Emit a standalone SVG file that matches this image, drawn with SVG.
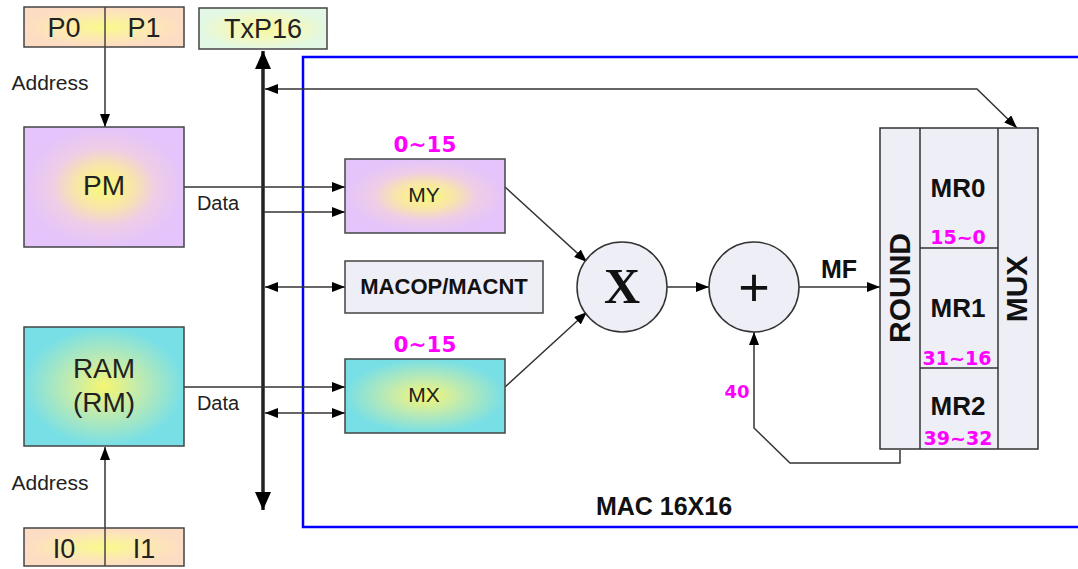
<svg xmlns="http://www.w3.org/2000/svg" width="1078" height="569" viewBox="0 0 1078 569">
<style>
.box{stroke:#444;stroke-width:1.5}
.ln{stroke:#333;stroke-width:1.5;fill:none}
.bus{stroke:#222;stroke-width:3.5;fill:none}
.t{font-family:"Liberation Sans",Arial,sans-serif;fill:#222;text-anchor:middle}
.b{font-family:"Liberation Sans",Arial,sans-serif;font-weight:bold;fill:#111;text-anchor:middle}
.m{font-family:"DejaVu Sans",Verdana,sans-serif;font-weight:bold;fill:#ff00ff;text-anchor:middle}
.reg{fill:#eeeef7;stroke:#333;stroke-width:1.5}
</style>
<defs>
<radialGradient id="gPurple"><stop offset="0" stop-color="#fafa78"/><stop offset="0.35" stop-color="#f8e6a8"/><stop offset="0.65" stop-color="#eecde6"/><stop offset="1" stop-color="#e4c4fb"/></radialGradient>
<radialGradient id="gCyan"><stop offset="0" stop-color="#f6f670"/><stop offset="0.4" stop-color="#c6ecaa"/><stop offset="1" stop-color="#78dfe6"/></radialGradient>
<radialGradient id="gPeach"><stop offset="0" stop-color="#fafa8a"/><stop offset="0.6" stop-color="#fce8b4"/><stop offset="1" stop-color="#fddcc4"/></radialGradient>
<radialGradient id="gGreen"><stop offset="0" stop-color="#f8f89c"/><stop offset="0.6" stop-color="#f0f8c6"/><stop offset="1" stop-color="#e2f8e4"/></radialGradient>
<marker id="ah" markerWidth="13" markerHeight="10" refX="13" refY="5" orient="auto-start-reverse" markerUnits="userSpaceOnUse"><path d="M0,0 L13,5 L0,10 z" fill="#000"/></marker>
<marker id="bh" markerWidth="18" markerHeight="16" refX="18" refY="8" orient="auto-start-reverse" markerUnits="userSpaceOnUse"><path d="M0,0 L18,8 L0,16 z" fill="#000"/></marker>
</defs>
<rect width="1078" height="569" fill="#fff"/>

<g id="mac-frame">
<path d="M1080,57 H303 V527 H1080" fill="none" stroke="#0000ff" stroke-width="2.5"/>
<text class="b" x="664" y="515" font-size="25">MAC 16X16</text>
</g>

<g id="connectors">
<line class="bus" x1="263" y1="270" x2="263" y2="51" marker-end="url(#bh)"/>
<line class="bus" x1="263" y1="270" x2="263" y2="510" marker-end="url(#bh)"/>
<line class="ln" x1="105" y1="47" x2="105" y2="127" marker-end="url(#ah)"/>
<line class="ln" x1="105" y1="528" x2="105" y2="447" marker-end="url(#ah)"/>
<line class="ln" x1="184" y1="187" x2="345" y2="187" marker-end="url(#ah)"/>
<line class="ln" x1="264" y1="212" x2="345" y2="212" marker-end="url(#ah)"/>
<line class="ln" x1="265" y1="287" x2="345" y2="287" marker-start="url(#ah)" marker-end="url(#ah)"/>
<line class="ln" x1="184" y1="387" x2="345" y2="387" marker-end="url(#ah)"/>
<line class="ln" x1="265" y1="413" x2="345" y2="413" marker-start="url(#ah)" marker-end="url(#ah)"/>
<polyline class="ln" points="1017,128 977,89 265,89" marker-start="url(#ah)" marker-end="url(#ah)"/>
<line class="ln" x1="505" y1="187" x2="587" y2="262" marker-end="url(#ah)"/>
<line class="ln" x1="505" y1="387" x2="587" y2="312" marker-end="url(#ah)"/>
<line class="ln" x1="667" y1="287" x2="709" y2="287" marker-end="url(#ah)"/>
<line class="ln" x1="799" y1="287" x2="880" y2="287" marker-end="url(#ah)"/>
<polyline class="ln" points="900,450 900,463 790,463 754,428 754,332" marker-end="url(#ah)"/>
<text class="t" x="218" y="210" font-size="20">Data</text>
<text class="t" x="218" y="410" font-size="20">Data</text>
<text class="t" x="50" y="90" font-size="21">Address</text>
<text class="t" x="50" y="490" font-size="21">Address</text>
<text class="b" x="839" y="278" font-size="25">MF</text>
<text class="m" x="737" y="398" font-size="18">40</text>
</g>

<g id="p0p1">
<rect class="box" x="24" y="7" width="160" height="40" fill="url(#gPeach)"/>
<line class="box" x1="105" y1="7" x2="105" y2="47"/>
<text class="t" x="64" y="37" font-size="27">P0</text>
<text class="t" x="144" y="37" font-size="27">P1</text>
</g>

<g id="txp16">
<rect class="box" x="199" y="8" width="128" height="41" fill="url(#gGreen)"/>
<text class="t" x="263" y="38" font-size="27">TxP16</text>
</g>

<g id="pm">
<rect class="box" x="24" y="127" width="160" height="120" fill="url(#gPurple)"/>
<text class="t" x="104" y="195" font-size="28">PM</text>
</g>

<g id="ram">
<rect class="box" x="24" y="327" width="160" height="119" fill="url(#gCyan)"/>
<text class="t" x="104" y="378" font-size="28">RAM</text>
<text class="t" x="104" y="412" font-size="28">(RM)</text>
</g>

<g id="i0i1">
<rect class="box" x="24" y="528" width="160" height="38" fill="url(#gPeach)"/>
<line class="box" x1="105" y1="528" x2="105" y2="566"/>
<text class="t" x="64" y="558" font-size="27">I0</text>
<text class="t" x="144" y="558" font-size="27">I1</text>
</g>

<g id="my">
<text class="m" x="425" y="152" font-size="21.5">0~15</text>
<rect class="box" x="345" y="159" width="160" height="74" fill="url(#gPurple)"/>
<text class="t" x="424" y="202" font-size="21">MY</text>
</g>

<g id="macop">
<rect class="box" x="345" y="261" width="198" height="52" fill="#eeeef6"/>
<text class="b" x="444" y="294" font-size="22">MACOP/MACNT</text>
</g>

<g id="mx">
<text class="m" x="425" y="352" font-size="21.5">0~15</text>
<rect class="box" x="345" y="359" width="160" height="74" fill="url(#gCyan)"/>
<text class="t" x="424" y="402" font-size="21">MX</text>
</g>

<g id="mult">
<circle cx="622" cy="287" r="45" fill="#eeeef7" stroke="#333" stroke-width="1.5"/>
<text x="622" y="303" font-family="'Liberation Serif','Times New Roman',serif" font-weight="bold" font-size="50" text-anchor="middle" fill="#111">X</text>
</g>

<g id="adder">
<circle cx="754" cy="287" r="45" fill="#eeeef7" stroke="#333" stroke-width="1.5"/>
<text x="754" y="306" font-family="'Liberation Sans',Arial,sans-serif" font-size="54" text-anchor="middle" fill="#111">+</text>
</g>

<g id="registers">
<rect class="reg" x="880" y="128" width="158" height="321"/>
<line class="reg" x1="920" y1="128" x2="920" y2="449"/>
<line class="reg" x1="998" y1="128" x2="998" y2="449"/>
<line class="reg" x1="920" y1="248" x2="998" y2="248"/>
<line class="reg" x1="920" y1="368" x2="998" y2="368"/>
<text class="b" font-size="30" transform="translate(910,288) rotate(-90)">ROUND</text>
<text class="b" font-size="30" transform="translate(1027,289) rotate(-90)">MUX</text>
<text class="b" x="958" y="197" font-size="26">MR0</text>
<text class="b" x="958" y="317" font-size="26">MR1</text>
<text class="b" x="958" y="415" font-size="26">MR2</text>
<text class="m" x="958" y="244" font-size="19">15~0</text>
<text class="m" x="957" y="365" font-size="19">31~16</text>
<text class="m" x="958" y="445" font-size="19">39~32</text>
</g>
</svg>
